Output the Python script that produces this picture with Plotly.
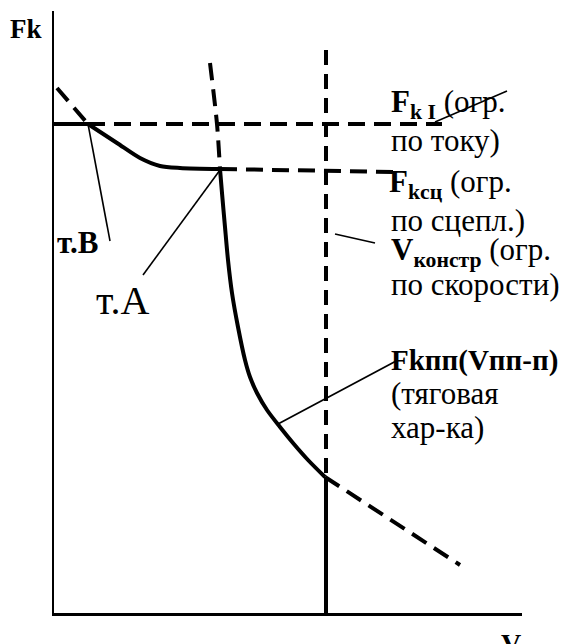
import plotly.graph_objects as go

# ---- data (chart units: V horizontal, F vertical, origin at axes corner) ----
# traction characteristic Fkпп(Vпп-п): flat part on the current limit
trac_flat_v = [0, 34]
trac_flat_f = [489, 489]
# curved part (т.В -> т.А)
trac_upper_v = [34, 63, 86, 106, 126, 166]
trac_upper_f = [489, 470, 455, 447, 445, 444]
# steep part (т.А -> V_констр)
trac_steep_v = [166, 168, 171, 174, 178, 184, 191, 196, 203, 213, 226, 239, 254, 271]
trac_steep_f = [444, 420, 386, 353, 320, 286, 253, 236, 220, 203, 186, 170, 153, 136]
# continuation of traction curve beyond V_констр (dashed)
trac_cont_v = [271, 406]
trac_cont_f = [136, 48]
# Fk I current limit (dashed)
fki_v = [34, 388]
fki_f = [489, 489]
# Fkсц adhesion limit (dashed)
fksc_v = [166, 343]
fksc_f = [444, 441]
# upper continuation of steep characteristic (dashed)
steep_up_v = [156, 163, 166]
steep_up_f = [550, 489, 444]
# upper-left dashed line through т.В
tb_line_v = [3, 34]
tb_line_f = [525, 489]
# V_констр speed limit
vk_dash_v = [272, 272]
vk_dash_f = [563, 136]
vk_solid_v = [272, 272]
vk_solid_f = [136, 0]
# leader lines (start on chart element -> end near label)
leaders = {
    "тB": ([34, 56], [489, 372]),
    "тA": ([166, 89], [443, 338]),
    "FkI": ([381, 453], [491, 522]),
    "Vk": ([281, 321], [379, 370]),
    "Fkpp": ([224, 344], [189, 253]),
}

# plot area in pixels
X0, Y0, W, H = 54, 613, 468, 602


def P(px, py):
    return (px - X0) / W, (Y0 - py) / H


fig = go.Figure()

thick = 4
dash = "17px,9px"


def add(v, f, width=thick, dashstyle="solid", shape="linear"):
    fig.add_trace(go.Scatter(x=v, y=f, mode="lines",
                             line=dict(color="black", width=width, dash=dashstyle, shape=shape,
                                       smoothing=0.8),
                             hoverinfo="skip", showlegend=False))


add(trac_flat_v, trac_flat_f)
add(trac_upper_v, trac_upper_f, shape="spline")
add(trac_steep_v, trac_steep_f, shape="spline")
add(trac_cont_v, trac_cont_f, dashstyle=dash)
add(fki_v, fki_f, dashstyle=dash)
add(fksc_v, fksc_f, dashstyle=dash)
add(steep_up_v, steep_up_f, dashstyle=dash, shape="spline")
add(tb_line_v, tb_line_f, dashstyle=dash)
add(vk_dash_v, vk_dash_f, dashstyle="15px,9px")
add(vk_solid_v, vk_solid_f)
for k, (lv, lf) in leaders.items():
    add(lv, lf, width=1.6)

FONT = "Liberation Serif"
S = 31


def ann(text, px, py, size=S, xanchor="left", yanchor="middle"):
    x, y = P(px, py)
    fig.add_annotation(x=x, y=y, xref="paper", yref="paper", text=text, showarrow=False,
                       xanchor=xanchor, yanchor=yanchor,
                       font=dict(family=FONT, size=size, color="black"))


ann("<b>Fk</b>", 8, 29, size=27)
ann("<b>т.В</b>", 55, 242, size=31)
ann("т.А", 94, 300, size=40)
ann("<b>F</b><sub><b>k I</b></sub> (огр.", 389, 104)
ann("по току)", 389, 141)
ann("<b>F</b><sub><b>kсц</b></sub> (огр.", 387, 184)
ann("по сцепл.)", 389, 220)
ann("<b>V</b><sub><b>констр</b></sub> (огр.", 389, 252)
ann("по скорости)", 389, 284)
ann("<b>Fkпп(Vпп-п)</b>", 389, 360, size=29)
ann("(тяговая", 389, 393)
ann("хар-ка)", 389, 427)
ann("<b>V</b>", 499, 626, size=28, yanchor="top")

fig.update_layout(
    width=569, height=644,
    margin=dict(l=54, r=47, t=11, b=31),
    paper_bgcolor="white", plot_bgcolor="white",
    xaxis=dict(range=[0, 468], showgrid=False, zeroline=False, showticklabels=False,
               ticks="", showline=True, linecolor="black", linewidth=2.5, fixedrange=True),
    yaxis=dict(range=[0, 602], showgrid=False, zeroline=False, showticklabels=False,
               ticks="", showline=True, linecolor="black", linewidth=2, fixedrange=True),
)

fig.write_html("out.html", config={"displayModeBar": False},
               post_script="document.body.style.margin='0';")
